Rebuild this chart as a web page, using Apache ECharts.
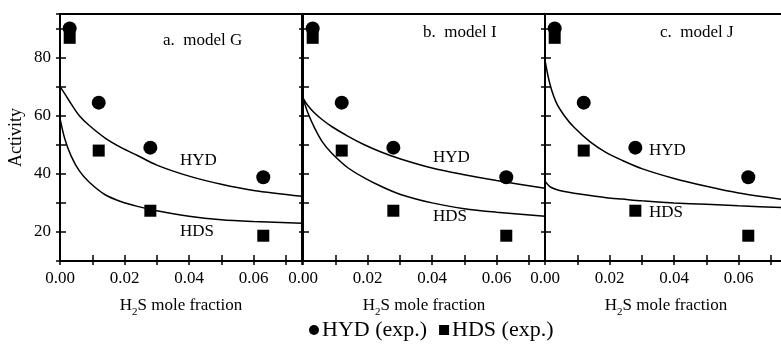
<!DOCTYPE html>
<html>
<head>
<meta charset="utf-8">
<script src="https://cdn.jsdelivr.net/npm/echarts@6/dist/echarts.min.js"></script>
<style>
  html, body { margin: 0; padding: 0; background: #fff; }
  #main { width: 781px; height: 345px; }
</style>
</head>
<body>
<div id="main"></div>
<script>
// experimental points (same in every panel)
var expX = [0.003, 0.012, 0.028, 0.063];
var hydExp = [90, 64.5, 49, 38.8];
var hdsExp = [86.8, 48, 27.3, 18.7];

// model curves
var fitX = [0, 0.0015, 0.0035, 0.006, 0.009, 0.014, 0.019, 0.024, 0.03, 0.04, 0.05, 0.06, 0.075];
var hydFitG = [70, 67.5, 64, 60, 56.7, 52.3, 49, 46.3, 43, 39.2, 36.4, 34.3, 32.3];
var hdsFitG = [59, 52, 46, 41, 37.2, 32.8, 30.4, 28.8, 27.3, 25.4, 24.2, 23.6, 23];
var hydFitI = [66, 63.5, 61, 58.6, 56.2, 52.9, 50, 47.6, 45.2, 42, 39.7, 37.7, 35];
var hdsFitI = [66, 61, 56, 51, 47, 42, 38.6, 35.8, 33, 30, 28, 26.8, 25.4];
var hydFitJ = [79, 71, 64.5, 60, 56, 51, 47.3, 44.6, 41.8, 38.4, 35.7, 33.4, 31];
var hdsFitJ = [37.5, 35.6, 34.6, 33.9, 33.3, 32.5, 31.8, 31.3, 30.7, 30, 29.5, 29, 28.3];

var panelTitles = ["a.  model G", "b.  model I", "c.  model J"];
var xTickLabels = ["0.00", "0.02", "0.04", "0.06"];
var yTickLabels = ["20", "40", "60", "80"];

function pairs(xs, ys) {
  return xs.map(function (x, i) { return [x, ys[i]]; });
}

var myChart = echarts.init(document.getElementById("main"));
var font = '"Liberation Serif", "Times New Roman", serif';

var lefts = [60, 303, 545];
var grids = [], xAxes = [], yAxes = [], series = [];
var fits = [[hydFitG, hdsFitG], [hydFitI, hdsFitI], [hydFitJ, hdsFitJ]];

lefts.forEach(function (left, i) {
  grids.push({
    left: left, top: 14, width: 242, height: 247,
    outerBoundsMode: "none", containLabel: false,
    show: true, borderColor: "#000", borderWidth: 2,
  });
  var xBase = {
    type: "value", gridIndex: i, min: 0, max: 0.075, interval: 0.01,
    position: "bottom",
    splitLine: { show: false },
    axisLine: { lineStyle: { color: "#000", width: 2 } },
  };
  xAxes.push(Object.assign({}, xBase, {
    axisTick: { inside: false, length: 4, lineStyle: { color: "#000", width: 1.5 } },
    axisLabel: {
      margin: 9, color: "#000", fontFamily: font, fontSize: 17,
      formatter: function (v) {
        var s = v.toFixed(2);
        return xTickLabels.indexOf(s) >= 0 && Math.abs(v - Number(s)) < 1e-9 ? s : "";
      },
    },
    name: "{a|H}{s|2}{a|S mole fraction}",
    nameLocation: "middle", nameGap: 36,
    nameTextStyle: {
      rich: {
        a: { fontFamily: font, fontSize: 17, color: "#000", padding: [0, 0, 4, 0], verticalAlign: "bottom" },
        s: { fontFamily: font, fontSize: 11, color: "#000", verticalAlign: "bottom" },
      },
    },
  }));
  xAxes.push(Object.assign({}, xBase, {
    axisTick: { inside: true, length: 6, lineStyle: { color: "#000", width: 1.5 } },
    axisLabel: { show: false },
  }));
  var yBase = {
    type: "value", gridIndex: i, min: 10, max: 95, interval: 10,
    position: "left",
    splitLine: { show: false },
    axisLine: { lineStyle: { color: "#000", width: 2 } },
  };
  yAxes.push(Object.assign({}, yBase, {
    axisTick: { inside: false, length: 4, lineStyle: { color: "#000", width: 1.5 } },
    axisLabel: {
      show: i === 0, margin: 9, color: "#000", fontFamily: font, fontSize: 17,
      formatter: function (v) {
        return yTickLabels.indexOf(String(v)) >= 0 ? String(v) : "";
      },
    },
    name: i === 0 ? "Activity" : "",
    nameLocation: "middle", nameGap: 35,
    nameTextStyle: { fontFamily: font, fontSize: 18, color: "#000" },
  }));
  yAxes.push(Object.assign({}, yBase, {
    axisTick: { inside: true, length: 6, lineStyle: { color: "#000", width: 1.5 } },
    axisLabel: { show: false },
  }));

  fits[i].forEach(function (ys) {
    series.push({
      type: "line", xAxisIndex: i * 2, yAxisIndex: i * 2,
      data: pairs(fitX, ys), smooth: 0.3, showSymbol: false, silent: true,
      lineStyle: { color: "#000", width: 1.5 },
    });
  });
  series.push({
    name: "HYD (exp.)", type: "scatter", xAxisIndex: i * 2, yAxisIndex: i * 2,
    data: pairs(expX, hydExp), symbol: "circle", symbolSize: 14,
    itemStyle: { color: "#000", opacity: 1 }, z: 5,
  });
  series.push({
    name: "HDS (exp.)", type: "scatter", xAxisIndex: i * 2, yAxisIndex: i * 2,
    data: pairs(expX, hdsExp), symbol: "rect", symbolSize: 12,
    itemStyle: { color: "#000", opacity: 1 }, z: 5,
  });
});

function label(text, x, y) {
  return {
    type: "text", x: x, y: y, z: 100,
    style: { text: text, font: '17px "Liberation Serif"', fill: "#000", verticalAlign: "middle" },
  };
}

myChart.setOption({
  animation: false,
  grid: grids,
  xAxis: xAxes,
  yAxis: yAxes,
  series: series,
  legend: {
    data: [{ name: "HYD (exp.)", icon: "circle" }, { name: "HDS (exp.)", icon: "rect" }],
    left: 304, top: 314,
    itemWidth: 10, itemHeight: 10, itemGap: 12,
    textStyle: { fontFamily: font, fontSize: 22, color: "#000", padding: [0, 0, 0, -2] },
    selectedMode: false,
  },
  graphic: [
    label(panelTitles[0], 163, 41),
    label(panelTitles[1], 423, 33),
    label(panelTitles[2], 660, 33),
    label("HYD", 180, 161),
    label("HDS", 180, 232),
    label("HYD", 433, 158),
    label("HDS", 433, 217),
    label("HYD", 649, 151),
    label("HDS", 649, 213),
  ],
});
</script>
</body>
</html>
